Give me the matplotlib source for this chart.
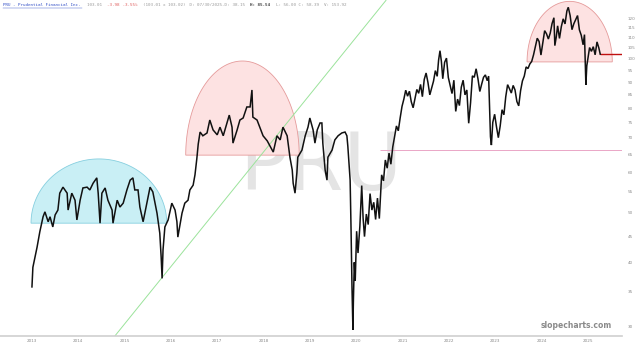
import numpy as np
import matplotlib
matplotlib.use("Agg")
import matplotlib.pyplot as plt
from matplotlib.patches import Polygon
from matplotlib.ticker import NullLocator
from matplotlib.lines import Line2D

# ---------------- data (decimal year, dividend-adjusted price) ----------------
t = [2013.31, 2013.33, 2013.42, 2013.48, 2013.55, 2013.59, 2013.66, 2013.70, 2013.76, 2013.81,
     2013.87, 2013.91, 2013.98, 2014.07, 2014.09, 2014.17, 2014.24, 2014.28, 2014.35, 2014.41,
     2014.50, 2014.56, 2014.63, 2014.71, 2014.74, 2014.78, 2014.82, 2014.89, 2014.95, 2015.04,
     2015.06, 2015.15, 2015.21, 2015.28, 2015.36, 2015.43, 2015.49, 2015.53, 2015.60, 2015.64,
     2015.71, 2015.79, 2015.86, 2015.92, 2016.01, 2016.07, 2016.10, 2016.12, 2016.14, 2016.18,
     2016.25, 2016.33, 2016.40, 2016.44, 2016.46, 2016.55, 2016.61, 2016.68, 2016.72, 2016.79,
     2016.83, 2016.87, 2016.90, 2016.94, 2017.00, 2017.09, 2017.15, 2017.22, 2017.31, 2017.37,
     2017.44, 2017.52, 2017.57, 2017.63, 2017.65, 2017.74, 2017.80, 2017.87, 2017.95, 2018.02,
     2018.06, 2018.08, 2018.17, 2018.23, 2018.30, 2018.39, 2018.45, 2018.52, 2018.60, 2018.67,
     2018.73, 2018.82, 2018.88, 2018.93, 2018.95, 2018.99, 2019.03, 2019.05, 2019.14, 2019.21,
     2019.27, 2019.31, 2019.38, 2019.42, 2019.47, 2019.53, 2019.57, 2019.59, 2019.64, 2019.68,
     2019.70, 2019.79, 2019.85, 2019.92, 2020.00, 2020.07, 2020.11, 2020.13, 2020.18, 2020.20,
     2020.22, 2020.24, 2020.25, 2020.27, 2020.29, 2020.32, 2020.35, 2020.39, 2020.43, 2020.46,
     2020.49, 2020.53, 2020.57, 2020.61, 2020.65, 2020.69, 2020.73, 2020.77, 2020.81, 2020.86,
     2020.90, 2020.94, 2020.98, 2021.02, 2021.06, 2021.10, 2021.14, 2021.18, 2021.22, 2021.26,
     2021.30, 2021.34, 2021.38, 2021.42, 2021.46, 2021.50, 2021.54, 2021.58, 2021.62, 2021.66,
     2021.70, 2021.74, 2021.78, 2021.82, 2021.86, 2021.90, 2021.94, 2021.98, 2022.02, 2022.06,
     2022.09, 2022.12, 2022.15, 2022.18, 2022.22, 2022.26, 2022.30, 2022.34, 2022.38, 2022.42,
     2022.46, 2022.50, 2022.54, 2022.58, 2022.62, 2022.66, 2022.70, 2022.74, 2022.78, 2022.82,
     2022.86, 2022.90, 2022.94, 2022.98, 2023.02, 2023.06, 2023.10, 2023.14, 2023.17, 2023.19,
     2023.21, 2023.23, 2023.26, 2023.30, 2023.34, 2023.38, 2023.42, 2023.46, 2023.50, 2023.54,
     2023.58, 2023.62, 2023.66, 2023.70, 2023.74, 2023.78, 2023.82, 2023.86, 2023.90, 2023.94,
     2023.98, 2024.02, 2024.06, 2024.10, 2024.14, 2024.18, 2024.22, 2024.26, 2024.30, 2024.34,
     2024.38, 2024.42, 2024.46, 2024.50, 2024.54, 2024.58, 2024.60, 2024.63, 2024.66, 2024.70,
     2024.74, 2024.78, 2024.82, 2024.86, 2024.89, 2024.93, 2024.97, 2025.01, 2025.05, 2025.09,
     2025.13, 2025.17, 2025.21, 2025.24, 2025.26, 2025.27, 2025.29, 2025.32, 2025.35, 2025.39,
     2025.43, 2025.47, 2025.51, 2025.55, 2025.58]
price = [35.8, 39.1, 42.8, 45.9, 49.1, 50.2, 48.0, 49.1, 46.9, 49.5,
         50.6, 54.6, 56.1, 54.6, 50.6, 54.6, 52.9, 48.4, 52.9, 55.9,
         56.1, 55.4, 57.1, 58.5, 54.6, 47.7, 54.6, 55.9, 52.9, 50.6,
         47.7, 52.9, 51.3, 52.2, 55.4, 57.9, 58.5, 55.4, 55.4, 51.3,
         48.0, 52.2, 56.1, 54.9, 49.9, 45.6, 40.9, 37.2, 42.3, 46.9,
         48.4, 52.2, 50.6, 48.0, 44.8, 49.9, 52.2, 52.9, 55.4, 56.6,
         59.3, 63.8, 68.1, 71.9, 70.7, 71.6, 75.9, 72.6, 71.0, 73.5,
         70.7, 74.9, 77.6, 73.5, 68.4, 72.6, 75.9, 76.6, 80.5, 80.5,
         86.9, 76.9, 75.9, 73.5, 70.7, 69.1, 67.5, 65.7, 70.7, 69.4,
         73.5, 70.7, 64.2, 60.6, 57.1, 54.6, 59.8, 64.2, 66.3, 70.7,
         73.5, 76.6, 72.6, 68.4, 72.6, 74.9, 74.9, 68.4, 60.6, 57.9,
         64.2, 66.3, 69.4, 70.7, 71.6, 71.9, 70.7, 67.5, 57.9, 46.3,
         35.8, 29.5, 33.5, 40.0, 36.8, 46.0, 41.7, 47.0, 56.5, 48.8,
         44.9, 49.7, 47.4, 54.5, 50.6, 52.4, 48.5, 53.4, 48.7, 59.3,
         57.7, 63.4, 61.1, 65.4, 62.2, 67.2, 70.4, 73.9, 72.3, 76.6,
         80.7, 83.4, 86.8, 84.5, 86.4, 82.4, 80.2, 83.6, 87.1, 85.6,
         89.1, 84.3, 91.1, 93.8, 89.9, 85.0, 87.7, 90.4, 94.8, 92.4,
         99.4, 103.7, 98.9, 91.4, 98.4, 100.3, 91.9, 88.7, 85.5, 90.8,
         78.9, 83.4, 81.0, 88.0, 90.8, 85.0, 86.9, 74.8, 82.0, 92.6,
         92.0, 95.6, 91.4, 86.3, 89.2, 92.0, 93.0, 90.6, 92.5, 80.1,
         70.4, 67.8, 75.1, 77.9, 73.6, 70.1, 73.9, 79.5, 77.7, 84.3,
         89.0, 87.4, 85.7, 88.7, 86.9, 82.5, 80.9, 86.6, 90.5, 92.5,
         96.4, 95.7, 97.7, 98.8, 101.8, 105.8, 109.7, 108.1, 101.7, 107.6,
         113.5, 111.9, 109.3, 112.2, 117.2, 120.3, 106.1, 110.2, 116.0, 109.6,
         115.6, 119.7, 117.0, 124.0, 126.1, 121.5, 114.0, 117.1, 119.3, 121.5,
         113.9, 111.2, 106.5, 111.5, 94.8, 88.9, 96.9, 101.1, 105.2, 103.4,
         105.6, 101.8, 107.9, 105.0, 102.1]

y_ticks = [120, 115, 110, 105, 100, 95, 90, 85, 80, 75, 70, 65, 60, 55, 50, 45, 40, 35, 30]
x_tick_years = list(range(2013, 2026))
TICK_OFFSET = 0.31  # label anchor inside each year

# domes: (start year, end year, base price, top price)
dome_cyan = (2013.29, 2016.22, 47.7, 63.7)
dome_pink = (2016.63, 2019.08, 64.8, 99.0)
dome_red = (2024.00, 2025.84, 98.6, 129.5)

trend_x = [2015.10, 2020.96]
trend_y = [28.7, 130.3]
support_start, support_level = 2020.83, 66.3
last_level = price[-1]

header = [("PRU - Prudential Financial Inc.", "#3552c8", "normal"),
          ("  103.01", "#9a9a9a", "normal"),
          ("  -3.98", "#e06060", "normal"),
          (" -3.55%", "#e06060", "normal"),
          ("  (103.01 x 103.02)", "#9a9a9a", "normal"),
          (" D: 07/30/2025-D:", "#9a9a9a", "normal"),
          (" 38.15", "#9a9a9a", "normal"),
          ("  H:", "#444444", "bold"),
          (" 85.54", "#444444", "bold"),
          ("  L:", "#9a9a9a", "normal"),
          (" 56.00", "#9a9a9a", "normal"),
          (" C:", "#9a9a9a", "normal"),
          (" 58.39", "#9a9a9a", "normal"),
          ("  V: 153.92", "#9a9a9a", "normal")]

# ---------------- figure ----------------
W, H = 640, 345
fig = plt.figure(figsize=(W / 100, H / 100), dpi=100)
ax = fig.add_axes([0, 9 / H, 622 / W, 336 / H])
ax.set_yscale("log")
ax.set_xlim(2012.62, 2026.05)
ax.set_ylim(28.7, 130.3)

for s in ("top", "left", "right"):
    ax.spines[s].set_visible(False)
ax.spines["bottom"].set_color("#cfcfcf")
ax.spines["bottom"].set_linewidth(1.2)

ax.yaxis.tick_right()
ax.set_yticks(y_ticks)
ax.set_yticklabels([str(v) for v in y_ticks])
ax.yaxis.set_minor_locator(NullLocator())
ax.set_xticks([y + TICK_OFFSET for y in x_tick_years])
ax.set_xticklabels([str(y) for y in x_tick_years])
ax.tick_params(axis="y", length=0, pad=4, labelsize=3, labelcolor="#8a8a8a")
ax.tick_params(axis="x", length=0, pad=2.5, labelsize=3, labelcolor="#8a8a8a")

# watermark
ax.text(0.515, 0.50, "PRU", transform=ax.transAxes, ha="center", va="center",
        fontsize=58, color="#e4e4e4", zorder=0,
        family=["Liberation Sans Narrow", "DejaVu Sans"])


def dome_path(d, n=120):
    x0, x1, base, top = d
    th = np.linspace(0, np.pi, n)
    cx, rx = (x0 + x1) / 2, (x1 - x0) / 2
    xs = cx + rx * np.cos(th)
    ys = np.exp(np.log(base) + np.log(top / base) * np.sin(th))
    return np.column_stack([xs, ys])


for d, fc, ec in ((dome_cyan, "#c9eff5", "#86cfdf"),
                  (dome_pink, "#fde2e2", "#e59a9a"),
                  (dome_red, "#fde2e2", "#e59a9a")):
    ax.add_patch(Polygon(dome_path(d), closed=True, facecolor=fc, edgecolor=ec,
                         linewidth=0.6, zorder=1))

ax.plot(trend_x, trend_y, color="#9be39b", lw=0.7, zorder=2, solid_capstyle="butt")
ax.hlines(support_level, support_start, 2026.05, color="#eaa6c6", lw=0.7, zorder=2)
ax.hlines(last_level, t[-1], 2026.05, color="#c01010", lw=1.0, zorder=3)

ax.plot(t, price, color="#111111", lw=1.1, zorder=4, solid_joinstyle="miter")

# header
cw = 2.55 / W
idx = 0
for txt, col, wt in header:
    fig.text(3 / W + idx * cw, 1 - 5.5 / H, txt, fontsize=3.05, color=col, weight=wt,
             family=["DejaVu Sans Mono"], ha="left", va="center")
    if idx == 0:
        fig.add_artist(Line2D([3 / W, 3 / W + len(txt) * cw], [1 - 8.2 / H] * 2,
                              color=col, lw=0.3))
    idx += len(txt)

fig.text(576 / W, 1 - 326 / H, "slopecharts.com", fontsize=5.5, color="#8a8a8a",
         weight="bold", ha="center", va="center")

fig.savefig("out.png", dpi=100)
